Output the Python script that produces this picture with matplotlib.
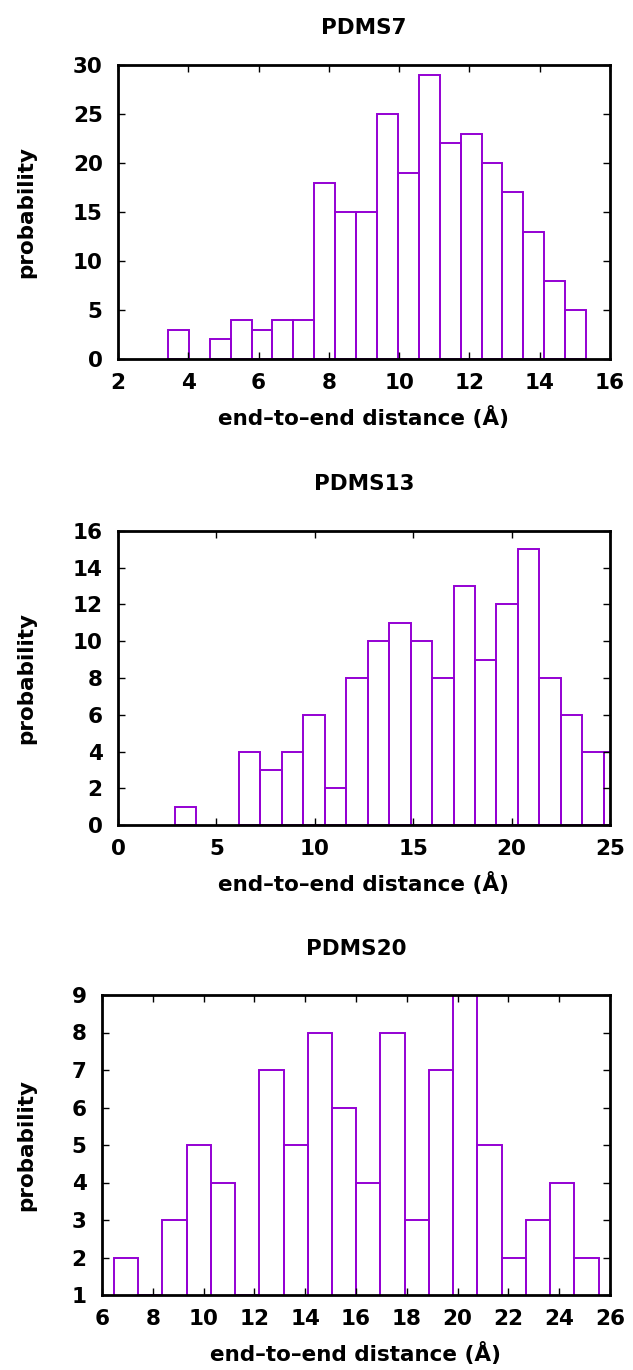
import matplotlib
matplotlib.use("Agg")
import matplotlib.pyplot as plt
import numpy as np

plt.rcParams['font.family'] = ['DejaVu Sans']

# ---- data ----
titles = ["PDMS7", "PDMS13", "PDMS20"]

p7_start, p7_width = 3.42, 0.595
p7_counts = [3, 0, 2, 4, 3, 4, 4, 18, 15, 15, 25, 19, 29, 22, 23, 20, 17, 13, 8, 5]

p13_start, p13_width = 2.88, 1.09
p13_counts = [1, 0, 0, 4, 3, 4, 6, 2, 8, 10, 11, 10, 8, 13, 9, 12, 15, 8, 6, 4, 4]

p20_start, p20_width = 6.47, 0.954
p20_counts = [2, 1, 3, 5, 4, 1, 7, 5, 8, 6, 4, 8, 3, 7, 9, 5, 2, 3, 4, 2]

xlabel = "end\u2013to\u2013end distance (\u00c5)"
ylabel = "probability"

p7_xticks = [2, 4, 6, 8, 10, 12, 14, 16]
p7_yticks = [0, 5, 10, 15, 20, 25, 30]
p13_xticks = [0, 5, 10, 15, 20, 25]
p13_yticks = [0, 2, 4, 6, 8, 10, 12, 14, 16]
p20_xticks = [6, 8, 10, 12, 14, 16, 18, 20, 22, 24, 26]
p20_yticks = [1, 2, 3, 4, 5, 6, 7, 8, 9]

W, H = 633, 1370
fig = plt.figure(figsize=(W / 100, H / 100), dpi=100)

COLOR = "#9400D3"
FS = 15.5
FW = "bold"

def make_axes(left, right, top, bottom):
    return fig.add_axes([left / W, 1 - bottom / H, (right - left) / W, (bottom - top) / H])

panels = [
    dict(box=(118, 610, 65, 359), title_y=28, start=p7_start, width=p7_width, counts=p7_counts,
         xlim=(2, 16), ylim=(0, 30), xticks=p7_xticks, yticks=p7_yticks, title=titles[0]),
    dict(box=(118, 610, 531, 825), title_y=484, start=p13_start, width=p13_width, counts=p13_counts,
         xlim=(0, 25), ylim=(0, 16), xticks=p13_xticks, yticks=p13_yticks, title=titles[1]),
    dict(box=(102, 610, 995, 1295), title_y=949, start=p20_start, width=p20_width, counts=p20_counts,
         xlim=(6, 26), ylim=(1, 9), xticks=p20_xticks, yticks=p20_yticks, title=titles[2]),
]

for p in panels:
    left, right, top, bottom = p["box"]
    ax = make_axes(left, right, top, bottom)
    counts = np.array(p["counts"], dtype=float)
    lefts = p["start"] + p["width"] * np.arange(len(counts))
    mask = counts > 0
    ax.bar(lefts[mask], counts[mask], width=p["width"], align="edge",
           facecolor="none", edgecolor=COLOR, linewidth=1.4)
    ax.set_xlim(*p["xlim"])
    ax.set_ylim(*p["ylim"])
    ax.set_xticks(p["xticks"])
    ax.set_yticks(p["yticks"])
    ax.tick_params(direction="in", top=True, right=True, length=5, width=1.0,
                   labelsize=FS)
    ax.tick_params(axis="x", pad=10)
    ax.tick_params(axis="y", pad=11)
    for lab in ax.get_xticklabels() + ax.get_yticklabels():
        lab.set_fontweight(FW)
    for s in ax.spines.values():
        s.set_linewidth(2.0)
        s.set_zorder(5)
    cx = (left + right) / 2
    cy = (top + bottom) / 2
    fig.text(cx / W, 1 - p["title_y"] / H, p["title"], fontsize=FS, fontweight=FW,
             ha="center", va="center")
    fig.text(cx / W, 1 - (bottom + 59) / H, xlabel, fontsize=FS, fontweight=FW,
             ha="center", va="center")
    fig.text(26 / W, 1 - cy / H, ylabel, fontsize=FS, fontweight=FW,
             ha="center", va="center", rotation=90)

fig.savefig("out.png", dpi=100)
